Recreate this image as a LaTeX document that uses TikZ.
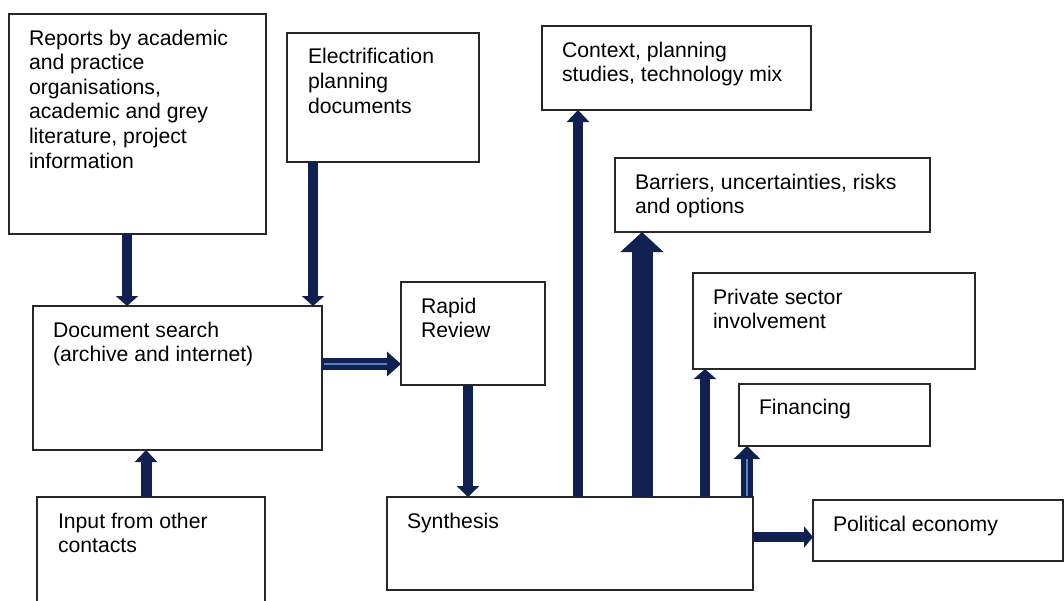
\documentclass[tikz,border=0pt]{standalone}
\usepackage{fontspec}
\setmainfont{Liberation Sans}
\usetikzlibrary{arrows.meta,calc}
\definecolor{navy}{RGB}{16,32,80}
\definecolor{stripeblue}{RGB}{90,130,200}
\definecolor{boxline}{RGB}{40,40,40}
\tikzset{
  box/.style={draw=boxline, line width=1.2pt, fill=white, rectangle, inner sep=0pt, outer sep=0pt, anchor=north west},
  txt/.style={inner sep=0pt, outer sep=0pt, anchor=north west, align=left, font=\fontsize{21.2}{24.6}\selectfont},
  blockarrow/.style={draw=navy, line width=10pt, -{Triangle[width=22pt,length=10pt]}, fill=navy},
  stripe/.style={draw=stripeblue, line width=1.6pt}
}
\begin{document}
\begin{tikzpicture}[x=1pt,y=-1pt]
\useasboundingbox (0,0) rectangle (1064,600);
\clip (0,0) rectangle (1064,600);

% boxes
\node[box, minimum width=257pt, minimum height=220pt] (rep) at (9,14) {};
\node[box, minimum width=192pt, minimum height=129pt] (ele) at (287,33) {};
\node[box, minimum width=269pt, minimum height=84pt] (ctx) at (542,26) {};
\node[box, minimum width=315pt, minimum height=74pt] (bar) at (615,158) {};
\node[box, minimum width=282pt, minimum height=96pt] (pri) at (693,273) {};
\node[box, minimum width=191pt, minimum height=62pt] (fin) at (739,384) {};
\node[box, minimum width=289pt, minimum height=144pt] (doc) at (33,306) {};
\node[box, minimum width=144pt, minimum height=103pt] (rap) at (401,282) {};
\node[box, minimum width=228pt, minimum height=120pt] (inp) at (37,497) {};
\node[box, minimum width=366pt, minimum height=93pt] (syn) at (387,497) {};
\node[box, minimum width=250pt, minimum height=61pt] (pol) at (813,500) {};

% texts
\node[txt] (repT) at ($(rep.north west)+(20,15.8)$) {Reports by academic\\and practice\\organisations,\\academic and grey\\literature, project\\information};
\node[txt] (eleT) at ($(ele.north west)+(21,15.6)$) {Electrification\\planning\\documents};
\node[txt] (ctxT) at ($(ctx.north west)+(20,15.8)$) {Context, planning\\studies, technology mix};
\node[txt] (barT) at ($(bar.north west)+(20,15.8)$) {Barriers, uncertainties, risks\\and options};
\node[txt] (priT) at ($(pri.north west)+(20,15.8)$) {Private sector\\involvement};
\node[txt] (finT) at ($(fin.north west)+(20,15.6)$) {Financing};
\node[txt] (docT) at ($(doc.north west)+(20,15.8)$) {Document search\\(archive and internet)};
\node[txt] (rapT) at ($(rap.north west)+(20,15.8)$) {Rapid\\Review};
\node[txt] (inpT) at ($(inp.north west)+(21,15.8)$) {Input from other\\contacts};
\node[txt] (synT) at ($(syn.north west)+(20,15.8)$) {Synthesis};
\node[txt] (polT) at ($(pol.north west)+(20,15.8)$) {Political economy};

% connectors
\draw[blockarrow] (127,0 |- rep.south) -- (127,0 |- doc.north);
\draw[blockarrow] (313,0 |- ele.south) -- (313,0 |- doc.north);
\draw[blockarrow, line width=12pt, -{Triangle[width=24pt,length=14pt]}] (doc.east |- 0,364) -- (rap.west |- 0,364);
\draw[stripe] (doc.east |- 0,364) ++(2,0) -- (387,364);
\draw[blockarrow, line width=11pt, -{Triangle[width=22pt,length=12pt]}] (146,0 |- inp.north) -- (146,0 |- doc.south);
\draw[blockarrow, -{Triangle[width=22pt,length=11pt]}] (468,0 |- rap.south) -- (468,0 |- syn.north);
\draw[blockarrow, -{Triangle[width=22pt,length=12pt]}] (578,0 |- syn.north) -- (578,0 |- ctx.south);
\draw[blockarrow, line width=21pt, -{Triangle[width=42pt,length=20pt]}] (642,0 |- syn.north) -- (642,0 |- bar.south);
\draw[blockarrow, line width=9.5pt, -{Triangle[width=22pt,length=10pt]}] (705,0 |- syn.north) -- (705,0 |- pri.south);
\draw[blockarrow, line width=12pt, -{Triangle[width=26pt,length=13pt]}] (747,0 |- syn.north) -- (747,0 |- fin.south);
\draw[stripe] (747,0 |- syn.north) ++(0,-1) -- (747,459);
\draw[blockarrow, -{Triangle[width=21pt,length=9pt]}] (syn.east |- 0,537) -- (pol.west |- 0,537);
\end{tikzpicture}
\end{document}
